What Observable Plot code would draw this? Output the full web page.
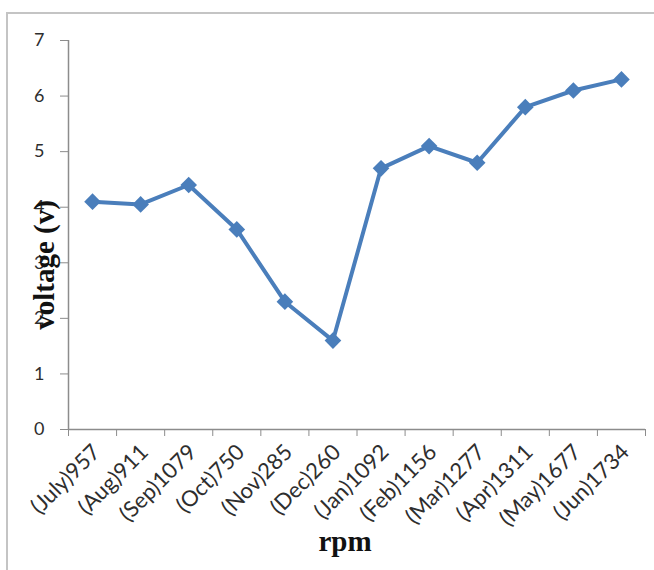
<!DOCTYPE html>
<html><head><meta charset="utf-8">
<script src="https://cdn.jsdelivr.net/npm/d3@7"></script>
<script src="https://cdn.jsdelivr.net/npm/@observablehq/plot@0.6"></script>
<style>
html,body{margin:0;padding:0;background:#fff;}
#wrap{position:relative;width:654px;height:570px;overflow:hidden;}
#frame{position:absolute;left:6px;top:12px;width:700px;height:600px;border-top:2px solid #c4c4c4;border-left:2px solid #c4c4c4;}
#chart{position:absolute;left:0;top:0;}
</style></head><body>
<div id="wrap"><div id="frame"></div><div id="chart"></div></div>
<script>
const months = ["July","Aug","Sep","Oct","Nov","Dec","Jan","Feb","Mar","Apr","May","Jun"];
const rpm = [957,911,1079,750,285,260,1092,1156,1277,1311,1677,1734];
const voltage = [4.1,4.05,4.4,3.6,2.3,1.6,4.7,5.1,4.8,5.8,6.1,6.3];
const yTicks = [0,1,2,3,4,5,6,7];
const yTitle = "voltage (v)";
const xTitle = "rpm";

const labels = months.map((m,i)=>`(${m})${rpm[i]}`);
const data = labels.map((label,i)=>({i, label, v: voltage[i]}));
const idx = labels.map((_, i) => i);
const bounds = [...idx.map(i=>i-0.5), labels.length-0.5];
const blue = "#4a7ebb", axisGrey = "#8c8c8c", textColor = "#2e2e2e";

const plot = Plot.plot({
  width: 654, height: 570,
  marginLeft: 68, marginRight: 9, marginTop: 40, marginBottom: 141,
  style: {fontFamily: "Lato, sans-serif", fontSize: "18px", background: "transparent", overflow: "visible"},
  x: {type: "linear", domain: [-0.5, labels.length - 0.5]},
  y: {domain: [0, 7]},
  marks: [
    Plot.ruleX([-0.5], {stroke: axisGrey, strokeWidth: 1.5}),
    Plot.ruleY([0], {stroke: axisGrey, strokeWidth: 1.5}),
    Plot.axisY(yTicks, {tickSize: 8, tickPadding: 16, tickFormat: d => String(d), stroke: axisGrey, fill: textColor, fontSize: 18, label: null}),
    Plot.axisX(bounds, {tickSize: 7, fill: "none", stroke: axisGrey, label: null}),
    Plot.axisX(idx, {tickSize: 0, tickRotate: -45, tickPadding: 19, dx: 4, tickFormat: i => labels[i], fill: textColor, fontSize: 22, label: null}),
    Plot.line(data, {x: "i", y: "v", stroke: blue, strokeWidth: 4}),
    Plot.dot(data, {x: "i", y: "v", symbol: "diamond2", r: 7.5, fill: blue, stroke: "none"}),
    Plot.text([yTitle], {frameAnchor: "left", textAnchor: "middle", lineAnchor: "middle", dx: -24, dy: 30, rotate: -90, fontFamily: "Liberation Serif, serif", fontWeight: "bold", fontSize: 29, fill: "#111"}),
    Plot.text([xTitle], {frameAnchor: "bottom", textAnchor: "middle", lineAnchor: "middle", dx: -12, dy: 112, fontFamily: "Liberation Serif, serif", fontWeight: "bold", fontSize: 29, fill: "#111"})
  ]
});
document.getElementById("chart").appendChild(plot);
</script>
</body></html>
